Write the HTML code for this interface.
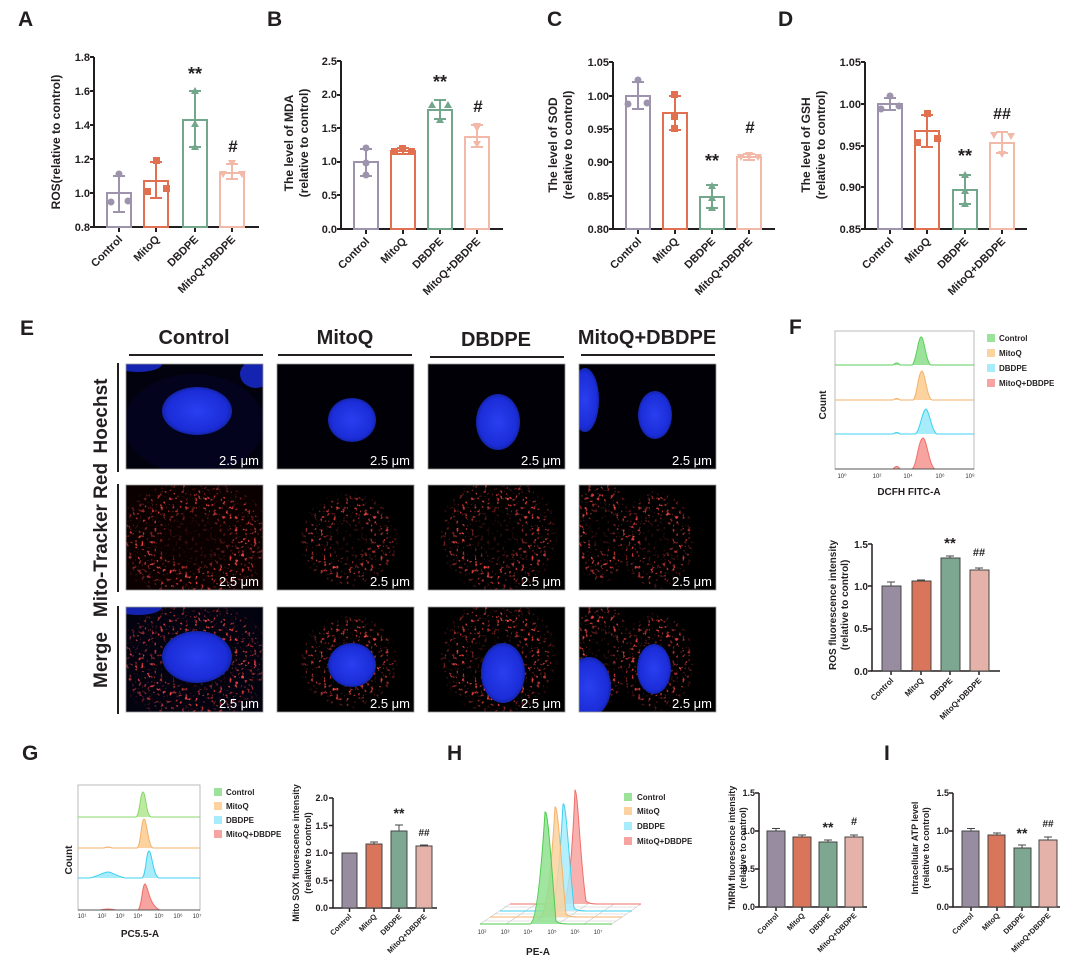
<!DOCTYPE html>
<html><head><meta charset="utf-8"><style>
html,body{margin:0;padding:0;background:#fff;}
svg{display:block;font-family:"Liberation Sans",Arial,sans-serif;}
.t{font-weight:bold;fill:#231f20;}
</style></head><body>
<svg width="1080" height="967" viewBox="0 0 1080 967" xmlns="http://www.w3.org/2000/svg">
<defs>
<clipPath id="cp"><rect width="137" height="105"/></clipPath>
<filter id="mito" x="0" y="0" width="100%" height="100%">
<feTurbulence type="fractalNoise" baseFrequency="0.32" numOctaves="2" seed="4"/>
<feColorMatrix type="matrix" values="0 0 0 0 0.95  0 0 0 0 0.06  0 0 0 0 0.06  6 0 0 0 -3.5"/>
</filter>
<radialGradient id="nuc" cx="50%" cy="50%" r="50%"><stop offset="0" stop-color="#2a3ff0"/><stop offset="0.85" stop-color="#1b2dd8"/><stop offset="1" stop-color="#1424a8"/></radialGradient>
<radialGradient id="cellm" cx="50%" cy="50%" r="50%"><stop offset="0.3" stop-color="#fff" stop-opacity="0.2"/><stop offset="0.6" stop-color="#fff" stop-opacity="1"/><stop offset="0.85" stop-color="#fff" stop-opacity="0.7"/><stop offset="1" stop-color="#fff" stop-opacity="0"/></radialGradient>
<mask id="m1"><ellipse cx="68" cy="55" rx="80" ry="62" fill="url(#cellm)"/></mask>
<mask id="m2"><ellipse cx="72" cy="55" rx="50" ry="48" fill="url(#cellm)"/></mask>
<mask id="m3"><ellipse cx="70" cy="50" rx="60" ry="60" fill="url(#cellm)"/></mask>
<mask id="m4"><ellipse cx="78" cy="55" rx="38" ry="50" fill="url(#cellm)"/><ellipse cx="22" cy="45" rx="30" ry="55" fill="url(#cellm)"/></mask>
<rect id="noise" width="137" height="105" fill="#fff" filter="url(#mito)"/>
</defs>

<!-- Panel letters -->
<g class="t" font-size="21">
<text x="18" y="26">A</text><text x="267" y="26">B</text><text x="547" y="26">C</text><text x="778" y="26">D</text>
<text x="20" y="335">E</text><text x="789" y="334">F</text>
<text x="22" y="760">G</text><text x="447" y="760">H</text><text x="884" y="760">I</text>
</g>

<!-- ===== Panel A ===== -->
<g font-size="11" class="t" text-anchor="end">
<text x="90" y="61">1.8</text><text x="90" y="95">1.6</text><text x="90" y="129">1.4</text><text x="90" y="163">1.2</text><text x="90" y="197">1.0</text><text x="90" y="231">0.8</text>
</g>
<g stroke="#231f20" stroke-width="2" fill="none">
<path d="M94,57 V227 H259"/>
<path d="M90,57H94M90,91H94M90,125H94M90,159H94M90,193H94M90,227H94"/>
<path d="M119,227v5M156,227v5M195,227v5M232,227v5"/>
</g>
<text class="t" font-size="12" transform="translate(60,142) rotate(-90)" text-anchor="middle">ROS(relative to control)</text>
<g fill="none" stroke-width="2">
<rect x="107" y="193" width="24" height="34" stroke="#9d93ad"/>
<path d="M119,176V212M113,176h12M113,212h12" stroke="#9d93ad"/>
<rect x="144" y="181" width="24" height="46" stroke="#e0704f"/>
<path d="M156,162V198M150,162h12M150,198h12" stroke="#e0704f"/>
<rect x="183" y="120" width="24" height="107" stroke="#72a78b"/>
<path d="M195,91V147M189,91h12M189,147h12" stroke="#72a78b"/>
<rect x="220" y="173" width="24" height="54" stroke="#f2b8a8"/>
<path d="M232,164V179M226,164h12M226,179h12" stroke="#f2b8a8"/>
</g>
<g fill="#9d93ad"><circle cx="119" cy="174" r="3.5"/><circle cx="111" cy="202" r="3.5"/><circle cx="128" cy="201" r="3.5"/></g>
<g fill="#e0704f"><rect x="153" y="157" width="7" height="7"/><rect x="144" y="188" width="7" height="7"/><rect x="163" y="185" width="7" height="7"/></g>
<g fill="#72a78b"><path d="M195,87l4,7h-8z M195,120l4,7h-8z M195,143l4,7h-8z"/></g>
<g fill="#f2b8a8"><path d="M232,167l4,-7h-8z M223,178l4,-7h-8z M242,178l4,-7h-8z"/></g>
<text class="t" font-size="18" x="195" y="80" text-anchor="middle">**</text>
<text class="t" font-size="17" x="233" y="152" text-anchor="middle">#</text>
<g class="t" font-size="11" text-anchor="end">
<text transform="translate(123,240) rotate(-45)">Control</text>
<text transform="translate(160,240) rotate(-45)">MitoQ</text>
<text transform="translate(199,240) rotate(-45)">DBDPE</text>
<text transform="translate(236,240) rotate(-45)">MitoQ+DBDPE</text>
</g>

<!-- ===== Panel B ===== -->
<g font-size="11" class="t" text-anchor="end">
<text x="337" y="65">2.5</text><text x="337" y="98">2.0</text><text x="337" y="132">1.5</text><text x="337" y="165">1.0</text><text x="337" y="199">0.5</text><text x="337" y="233">0.0</text>
</g>
<g stroke="#231f20" stroke-width="2" fill="none">
<path d="M341,61 V229 H503"/>
<path d="M337,61H341M337,95H341M337,128H341M337,162H341M337,195H341M337,229H341"/>
<path d="M366,229v5M403,229v5M440,229v5M477,229v5"/>
</g>
<text class="t" font-size="12" text-anchor="middle" transform="translate(293,143) rotate(-90)">The level of MDA</text>
<text class="t" font-size="12" text-anchor="middle" transform="translate(308,143) rotate(-90)">(relative to control)</text>
<g fill="none" stroke-width="2">
<rect x="354" y="162" width="24" height="67" stroke="#9d93ad"/>
<path d="M366,149V176M360,149h12M360,176h12" stroke="#9d93ad"/>
<rect x="391" y="151" width="24" height="78" stroke="#e0704f"/>
<path d="M403,148V154M397,148h12M397,154h12" stroke="#e0704f"/>
<rect x="428" y="110" width="24" height="119" stroke="#72a78b"/>
<path d="M440,100V119M434,100h12M434,119h12" stroke="#72a78b"/>
<rect x="465" y="137" width="24" height="92" stroke="#f2b8a8"/>
<path d="M477,125V147M471,125h12M471,147h12" stroke="#f2b8a8"/>
</g>
<g fill="#9d93ad"><circle cx="366" cy="148" r="3.5"/><circle cx="366" cy="163" r="3.5"/><circle cx="366" cy="175" r="3.5"/></g>
<g fill="#e0704f"><rect x="399" y="145" width="7" height="7"/><rect x="391" y="148" width="7" height="7"/><rect x="408" y="148" width="7" height="7"/></g>
<g fill="#72a78b"><path d="M440,116l4,7h-8z M432,101l4,7h-8z M448,101l4,7h-8z"/></g>
<g fill="#f2b8a8"><path d="M477,132l4,-7h-8z M477,148l4,-7h-8z M477,130l4,-7h-8z"/></g>
<text class="t" font-size="18" x="440" y="88" text-anchor="middle">**</text>
<text class="t" font-size="17" x="478" y="112" text-anchor="middle">#</text>
<g class="t" font-size="11" text-anchor="end">
<text transform="translate(370,242) rotate(-45)">Control</text>
<text transform="translate(407,242) rotate(-45)">MitoQ</text>
<text transform="translate(444,242) rotate(-45)">DBDPE</text>
<text transform="translate(481,242) rotate(-45)">MitoQ+DBDPE</text>
</g>

<!-- ===== Panel C ===== -->
<g font-size="11" class="t" text-anchor="end">
<text x="609" y="66">1.05</text><text x="609" y="100">1.00</text><text x="609" y="133">0.95</text><text x="609" y="166">0.90</text><text x="609" y="200">0.85</text><text x="609" y="233">0.80</text>
</g>
<g stroke="#231f20" stroke-width="2" fill="none">
<path d="M613,62 V229 H775"/>
<path d="M609,62H613M609,96H613M609,129H613M609,162H613M609,196H613M609,229H613"/>
<path d="M638,229v5M675,229v5M712,229v5M749,229v5"/>
</g>
<text class="t" font-size="12" text-anchor="middle" transform="translate(557,145) rotate(-90)">The level of SOD</text>
<text class="t" font-size="12" text-anchor="middle" transform="translate(572,145) rotate(-90)">(relative to control)</text>
<g fill="none" stroke-width="2">
<rect x="626" y="96" width="24" height="133" stroke="#9d93ad"/>
<path d="M638,82V109M632,82h12M632,109h12" stroke="#9d93ad"/>
<rect x="663" y="113" width="24" height="116" stroke="#e0704f"/>
<path d="M675,96V130M669,96h12M669,130h12" stroke="#e0704f"/>
<rect x="700" y="197" width="24" height="32" stroke="#72a78b"/>
<path d="M712,185V208M706,185h12M706,208h12" stroke="#72a78b"/>
<rect x="737" y="157" width="24" height="72" stroke="#f2b8a8"/>
<path d="M749,154V160M743,154h12M743,160h12" stroke="#f2b8a8"/>
</g>
<g fill="#9d93ad"><circle cx="638" cy="80" r="3.5"/><circle cx="628" cy="104" r="3.5"/><circle cx="647" cy="103" r="3.5"/></g>
<g fill="#e0704f"><rect x="671" y="91" width="7" height="7"/><rect x="671" y="113" width="7" height="7"/><rect x="671" y="125" width="7" height="7"/></g>
<g fill="#72a78b"><path d="M712,182l4,7h-8z M712,194l4,7h-8z M712,204l4,7h-8z"/></g>
<g fill="#f2b8a8"><path d="M749,159l4,-7h-8z M741,161l4,-7h-8z M758,161l4,-7h-8z"/></g>
<text class="t" font-size="18" x="712" y="167" text-anchor="middle">**</text>
<text class="t" font-size="17" x="750" y="133" text-anchor="middle">#</text>
<g class="t" font-size="11" text-anchor="end">
<text transform="translate(642,242) rotate(-45)">Control</text>
<text transform="translate(679,242) rotate(-45)">MitoQ</text>
<text transform="translate(716,242) rotate(-45)">DBDPE</text>
<text transform="translate(753,242) rotate(-45)">MitoQ+DBDPE</text>
</g>

<!-- ===== Panel D ===== -->
<g font-size="11" class="t" text-anchor="end">
<text x="861" y="66">1.05</text><text x="861" y="108">1.00</text><text x="861" y="150">0.95</text><text x="861" y="191">0.90</text><text x="861" y="233">0.85</text>
</g>
<g stroke="#231f20" stroke-width="2" fill="none">
<path d="M865,62 V229 H1027"/>
<path d="M861,62H865M861,104H865M861,146H865M861,187H865M861,229H865"/>
<path d="M890,229v5M927,229v5M965,229v5M1002,229v5"/>
</g>
<text class="t" font-size="12" text-anchor="middle" transform="translate(810,145) rotate(-90)">The level of GSH</text>
<text class="t" font-size="12" text-anchor="middle" transform="translate(825,145) rotate(-90)">(relative to control)</text>
<g fill="none" stroke-width="2">
<rect x="878" y="104" width="24" height="125" stroke="#9d93ad"/>
<path d="M890,98V110M884,98h12M884,110h12" stroke="#9d93ad"/>
<rect x="915" y="131" width="24" height="98" stroke="#e0704f"/>
<path d="M927,115V147M921,115h12M921,147h12" stroke="#e0704f"/>
<rect x="953" y="190" width="24" height="39" stroke="#72a78b"/>
<path d="M965,175V204M959,175h12M959,204h12" stroke="#72a78b"/>
<rect x="990" y="143" width="24" height="86" stroke="#f2b8a8"/>
<path d="M1002,132V153M996,132h12M996,153h12" stroke="#f2b8a8"/>
</g>
<g fill="#9d93ad"><circle cx="890" cy="96" r="3.5"/><circle cx="881" cy="109" r="3.5"/><circle cx="899" cy="106" r="3.5"/></g>
<g fill="#e0704f"><rect x="924" y="110" width="7" height="7"/><rect x="914" y="139" width="7" height="7"/><rect x="934" y="135" width="7" height="7"/></g>
<g fill="#72a78b"><path d="M965,171l4,7h-8z M965,187l4,7h-8z M965,200l4,7h-8z"/></g>
<g fill="#f2b8a8"><path d="M1002,158l4,-7h-8z M994,139l4,-7h-8z M1011,140l4,-7h-8z"/></g>
<text class="t" font-size="18" x="965" y="162" text-anchor="middle">**</text>
<text class="t" font-size="16" x="1002" y="119" text-anchor="middle">##</text>
<g class="t" font-size="11" text-anchor="end">
<text transform="translate(894,242) rotate(-45)">Control</text>
<text transform="translate(931,242) rotate(-45)">MitoQ</text>
<text transform="translate(969,242) rotate(-45)">DBDPE</text>
<text transform="translate(1006,242) rotate(-45)">MitoQ+DBDPE</text>
</g>

<!-- ===== Panel E ===== -->
<g class="t" font-size="20" text-anchor="middle">
<text x="194" y="344">Control</text><text x="345" y="344">MitoQ</text><text x="496" y="346">DBDPE</text><text x="647" y="344">MitoQ+DBDPE</text>
</g>
<g stroke="#231f20" stroke-width="2">
<path d="M129,355H263M278,355H412M430,357H564M581,355H715"/>
<path d="M118,363V472M118,484V592M118,606V714"/>
</g>
<g class="t" font-size="19" text-anchor="middle">
<text transform="translate(107,416) rotate(-90)">Hoechst</text>
<text transform="translate(107,540) rotate(-90)">Mito-Tracker Red</text>
<text transform="translate(107,660) rotate(-90)">Merge</text>
</g>

<!-- Row 1 Hoechst -->
<g transform="translate(126,364)"><g clip-path="url(#cp)"><rect width="137" height="105" fill="#02020e"/><ellipse cx="68" cy="60" rx="70" ry="50" fill="#06073a" opacity="0.35"/><ellipse cx="71" cy="47" rx="35" ry="24" fill="url(#nuc)"/><ellipse cx="12" cy="0" rx="24" ry="8" fill="#1424b0"/><ellipse cx="130" cy="10" rx="16" ry="14" fill="#1424b0"/></g></g>
<g transform="translate(277,364)"><g clip-path="url(#cp)"><rect width="137" height="105" fill="#000006"/><ellipse cx="75" cy="56" rx="24" ry="22" fill="url(#nuc)"/></g></g>
<g transform="translate(428,364)"><g clip-path="url(#cp)"><rect width="137" height="105" fill="#000006"/><ellipse cx="70" cy="58" rx="22" ry="28" fill="url(#nuc)"/></g></g>
<g transform="translate(579,364)"><g clip-path="url(#cp)"><rect width="137" height="105" fill="#000006"/><ellipse cx="76" cy="51" rx="17" ry="24" fill="url(#nuc)"/><ellipse cx="6" cy="36" rx="14" ry="32" fill="url(#nuc)"/></g></g>
<!-- Row 2 Mito -->
<g transform="translate(126,485)"><g clip-path="url(#cp)"><rect width="137" height="105" fill="#0a0000"/><use href="#noise" mask="url(#m1)"/></g></g>
<g transform="translate(277,485)"><g clip-path="url(#cp)"><rect width="137" height="105" fill="#000"/><use href="#noise" mask="url(#m2)"/></g></g>
<g transform="translate(428,485)"><g clip-path="url(#cp)"><rect width="137" height="105" fill="#000"/><use href="#noise" mask="url(#m3)"/></g></g>
<g transform="translate(579,485)"><g clip-path="url(#cp)"><rect width="137" height="105" fill="#000"/><use href="#noise" mask="url(#m4)"/></g></g>
<!-- Row 3 Merge -->
<g transform="translate(126,607)"><g clip-path="url(#cp)"><rect width="137" height="105" fill="#03020f"/><use href="#noise" mask="url(#m1)"/><ellipse cx="71" cy="50" rx="35" ry="26" fill="url(#nuc)"/><ellipse cx="12" cy="0" rx="24" ry="8" fill="#1424b0"/></g></g>
<g transform="translate(277,607)"><g clip-path="url(#cp)"><rect width="137" height="105" fill="#000"/><use href="#noise" mask="url(#m2)"/><ellipse cx="75" cy="58" rx="24" ry="22" fill="url(#nuc)"/></g></g>
<g transform="translate(428,607)"><g clip-path="url(#cp)"><rect width="137" height="105" fill="#000"/><use href="#noise" mask="url(#m3)"/><ellipse cx="75" cy="66" rx="22" ry="30" fill="url(#nuc)"/></g></g>
<g transform="translate(579,607)"><g clip-path="url(#cp)"><rect width="137" height="105" fill="#000"/><use href="#noise" mask="url(#m4)"/><ellipse cx="75" cy="62" rx="17" ry="25" fill="url(#nuc)"/><ellipse cx="10" cy="80" rx="22" ry="30" fill="url(#nuc)"/></g></g>
<!-- scale labels -->
<g fill="#fff" font-size="13" text-anchor="end">
<text x="259" y="465">2.5 μm</text><text x="410" y="465">2.5 μm</text><text x="561" y="465">2.5 μm</text><text x="712" y="465">2.5 μm</text>
<text x="259" y="586">2.5 μm</text><text x="410" y="586">2.5 μm</text><text x="561" y="586">2.5 μm</text><text x="712" y="586">2.5 μm</text>
<text x="259" y="708">2.5 μm</text><text x="410" y="708">2.5 μm</text><text x="561" y="708">2.5 μm</text><text x="712" y="708">2.5 μm</text>
</g>
<g fill="none" stroke="#999" stroke-width="0.8">
<rect x="126" y="364" width="137" height="105"/><rect x="277" y="364" width="137" height="105"/><rect x="428" y="364" width="137" height="105"/><rect x="579" y="364" width="137" height="105"/>
<rect x="126" y="485" width="137" height="105"/><rect x="277" y="485" width="137" height="105"/><rect x="428" y="485" width="137" height="105"/><rect x="579" y="485" width="137" height="105"/>
<rect x="126" y="607" width="137" height="105"/><rect x="277" y="607" width="137" height="105"/><rect x="428" y="607" width="137" height="105"/><rect x="579" y="607" width="137" height="105"/>
</g>

<!-- ===== Panel F histogram ===== -->
<rect x="835" y="331" width="139" height="138" fill="#fff" stroke="#bbb" stroke-width="1"/>
<path d="M835,365H893Q897,361 900,365H912C916,363 918,338 921,337C924,336 926,363 931,365H974" fill="#9be39b" stroke="#5ccf5c" stroke-width="1"/>
<path d="M835,400H893Q897,397 900,400H913C917,398 918,372 922,371C925,372 927,398 932,400H974" fill="#fcd29f" stroke="#f5b26b" stroke-width="1"/>
<path d="M835,434H893Q897,431 900,434H915C920,432 922,410 926,409C929,410 932,432 937,434H974" fill="#a6ecfb" stroke="#3fd0f0" stroke-width="1"/>
<path d="M835,469H893Q897,464 900,469H912C917,466 918,440 923,438C927,439 929,466 935,469H974" fill="#f7a3a0" stroke="#ef6f6a" stroke-width="1"/>
<path d="M835,469H974" stroke="#555" stroke-width="1"/>
<g font-size="6" fill="#333" text-anchor="middle"><text x="842" y="478">10⁰</text><text x="877" y="478">10²</text><text x="908" y="478">10⁴</text><text x="940" y="478">10⁶</text><text x="970" y="478">10⁸</text></g>
<text class="t" font-size="10" x="909" y="495" text-anchor="middle">DCFH FITC-A</text>
<text class="t" font-size="10" text-anchor="middle" transform="translate(826,405) rotate(-90)">Count</text>
<g><rect x="987" y="334" width="8" height="8" fill="#9be39b"/><rect x="987" y="349" width="8" height="8" fill="#fcd29f"/><rect x="987" y="364" width="8" height="8" fill="#a6ecfb"/><rect x="987" y="379" width="8" height="8" fill="#f7a3a0"/></g>
<g class="t" font-size="8"><text x="999" y="341">Control</text><text x="999" y="356">MitoQ</text><text x="999" y="371">DBDPE</text><text x="999" y="386">MitoQ+DBDPE</text></g>

<!-- F bar chart -->
<g font-size="10" class="t" text-anchor="end"><text x="868" y="548">1.5</text><text x="868" y="590">1.0</text><text x="868" y="632">0.5</text><text x="868" y="675">0.0</text></g>
<g stroke="#231f20" stroke-width="1.5" fill="none"><path d="M872,544V671H1000"/><path d="M868,544h4M868,586h4M868,629h4M868,671h4M891,671v4M921,671v4M950,671v4M979,671v4"/></g>
<g stroke="#444" stroke-width="1">
<rect x="882" y="586" width="19" height="85" fill="#978ca0"/><rect x="912" y="581" width="19" height="90" fill="#d8755a"/><rect x="941" y="558" width="19" height="113" fill="#7ea792"/><rect x="970" y="570" width="19" height="101" fill="#e4b2a8"/>
<path d="M891,586V582M887,582h8M921,581V580M917,580h8M950,558V556M946,556h8M979,570V568M975,568h8" fill="none"/>
</g>
<text class="t" font-size="15" x="950" y="548" text-anchor="middle">**</text>
<text class="t" font-size="11" x="979" y="556" text-anchor="middle" fill="#444">##</text>
<text class="t" font-size="10" text-anchor="middle" transform="translate(836,605) rotate(-90)">ROS fluorescence intensity</text>
<text class="t" font-size="10" text-anchor="middle" transform="translate(848,605) rotate(-90)">(relative to control)</text>
<g class="t" font-size="8" text-anchor="end">
<text transform="translate(894,681) rotate(-45)">Control</text><text transform="translate(924,681) rotate(-45)">MitoQ</text><text transform="translate(953,681) rotate(-45)">DBDPE</text><text transform="translate(982,681) rotate(-45)">MitoQ+DBDPE</text>
</g>

<!-- ===== Panel G histogram ===== -->
<rect x="78" y="785" width="122" height="125" fill="#fff" stroke="#bbb"/>
<path d="M78,817H136C140,815 140,793 143,792C146,793 146,815 151,817H200" fill="#bdeaa0" stroke="#86d86a" stroke-width="1"/>
<path d="M78,848H104Q108,846 112,848H137C141,846 141,820 144,819C147,820 148,846 153,848H200" fill="#fcd29f" stroke="#f5b26b" stroke-width="1"/>
<path d="M78,878H90C98,876 104,872 108,872C112,872 116,876 125,878H142C146,876 146,852 149,851C152,852 153,876 159,878H200" fill="#a6ecfb" stroke="#3fd0f0" stroke-width="1"/>
<path d="M78,910H100Q108,908 116,910H138C142,907 142,885 145,884C148,885 149,906 160,910H200" fill="#f7a3a0" stroke="#ef6f6a" stroke-width="1"/>
<path d="M78,910H200" stroke="#555"/>
<g font-size="6" fill="#333" text-anchor="middle"><text x="82" y="918">10¹</text><text x="102" y="918">10²</text><text x="120" y="918">10³</text><text x="138" y="918">10⁴</text><text x="159" y="918">10⁵</text><text x="178" y="918">10⁶</text><text x="197" y="918">10⁷</text></g>
<text class="t" font-size="10" x="140" y="937" text-anchor="middle">PC5.5-A</text>
<text class="t" font-size="10" text-anchor="middle" transform="translate(72,860) rotate(-90)">Count</text>
<g><rect x="214" y="788" width="8" height="8" fill="#9be39b"/><rect x="214" y="802" width="8" height="8" fill="#fcd29f"/><rect x="214" y="816" width="8" height="8" fill="#a6ecfb"/><rect x="214" y="830" width="8" height="8" fill="#f7a3a0"/></g>
<g class="t" font-size="8"><text x="226" y="795">Control</text><text x="226" y="809">MitoQ</text><text x="226" y="823">DBDPE</text><text x="226" y="837">MitoQ+DBDPE</text></g>

<!-- G bar chart -->
<g font-size="9" class="t" text-anchor="end"><text x="328" y="801">2.0</text><text x="328" y="829">1.5</text><text x="328" y="856">1.0</text><text x="328" y="884">0.5</text><text x="328" y="911">0.0</text></g>
<g stroke="#231f20" stroke-width="1.5" fill="none"><path d="M333,798V908H437"/><path d="M329,798h4M329,825.5h4M329,853h4M329,880.5h4M329,908h4M349.5,908v4M374,908v4M399,908v4M424,908v4"/></g>
<g stroke="#444" stroke-width="1">
<rect x="342" y="853" width="15" height="55" fill="#978ca0"/><rect x="366" y="844" width="16" height="64" fill="#d8755a"/><rect x="391" y="831" width="16" height="77" fill="#7ea792"/><rect x="416" y="846" width="16" height="62" fill="#e4b2a8"/>
<path d="M374,844V842M370,842h8M399,831V825M395,825h8M424,846V845M420,845h8" fill="none"/>
</g>
<text class="t" font-size="14" x="399" y="818" text-anchor="middle">**</text>
<text class="t" font-size="10" x="424" y="836" text-anchor="middle" fill="#444">##</text>
<text class="t" font-size="9" text-anchor="middle" transform="translate(299,853) rotate(-90)">Mito SOX fluorescence intensity</text>
<text class="t" font-size="9" text-anchor="middle" transform="translate(311,853) rotate(-90)">(relative to control)</text>
<g class="t" font-size="7.5" text-anchor="end">
<text transform="translate(352,917) rotate(-45)">Control</text><text transform="translate(377,917) rotate(-45)">MitoQ</text><text transform="translate(402,917) rotate(-45)">DBDPE</text><text transform="translate(427,917) rotate(-45)">MitoQ+DBDPE</text>
</g>

<!-- ===== Panel H 3D histogram ===== -->
<g stroke="#c8c8c8" stroke-width="0.6" fill="none">
<path d="M480,924L510,904M506,924L536,904M532,924L562,904M558,924L588,904M584,924L614,904M612,924L641,904"/>
<path d="M490,917H622M500,911H632"/>
<path d="M484,921H616M494,914H626M504,907H636"/>
</g>
<path d="M510,904H562C568,902 572,860 575,790C578,790 580,860 586,901C588,903 590,904 600,904H641" fill="#f7a3a0" fill-opacity="0.85" stroke="#ef6f6a" stroke-width="1"/>
<path d="M500,911H550C556,909 560,860 563,804C566,800 569,860 574,908C576,910 578,911 590,911H632" fill="#a6ecfb" fill-opacity="0.85" stroke="#3fd0f0" stroke-width="1"/>
<path d="M490,917H540C547,915 552,860 555,807C558,805 561,860 566,914C568,916 570,917 582,917H622" fill="#fcd29f" fill-opacity="0.85" stroke="#f5b26b" stroke-width="1"/>
<path d="M480,924H530C537,922 542,860 545,812C548,810 551,860 556,921C558,923 560,924 572,924H612" fill="#8fe08f" fill-opacity="0.85" stroke="#4fcb4f" stroke-width="1"/>
<g font-size="6" fill="#333" text-anchor="middle"><text x="482" y="934">10²</text><text x="505" y="934">10³</text><text x="528" y="934">10⁴</text><text x="552" y="934">10⁵</text><text x="575" y="934">10⁶</text><text x="598" y="934">10⁷</text></g>
<text class="t" font-size="10" x="538" y="955" text-anchor="middle">PE-A</text>
<g><rect x="624" y="793" width="8" height="8" fill="#9be39b"/><rect x="624" y="807" width="8" height="8" fill="#fcd29f"/><rect x="624" y="822" width="8" height="8" fill="#a6ecfb"/><rect x="624" y="837" width="8" height="8" fill="#f7a3a0"/></g>
<g class="t" font-size="8"><text x="637" y="800">Control</text><text x="637" y="814">MitoQ</text><text x="637" y="829">DBDPE</text><text x="637" y="844">MitoQ+DBDPE</text></g>

<!-- H bar chart -->
<g font-size="9" class="t" text-anchor="end"><text x="755" y="796">1.5</text><text x="755" y="834">1.0</text><text x="755" y="872">0.5</text><text x="755" y="910">0.0</text></g>
<g stroke="#231f20" stroke-width="1.5" fill="none"><path d="M759,793V907H867"/><path d="M755,793h4M755,831h4M755,869h4M755,907h4M776,907v4M802,907v4M828,907v4M854,907v4"/></g>
<g stroke="#444" stroke-width="1">
<rect x="767" y="831" width="18" height="76" fill="#978ca0"/><rect x="793" y="837" width="18" height="70" fill="#d8755a"/><rect x="819" y="842" width="18" height="65" fill="#7ea792"/><rect x="845" y="837" width="18" height="70" fill="#e4b2a8"/>
<path d="M776,831V828.5M772,828.5h8M802,837V835M798,835h8M828,842V840M824,840h8M854,837V835M850,835h8" fill="none"/>
</g>
<text class="t" font-size="14" x="828" y="832" text-anchor="middle">**</text>
<text class="t" font-size="11" x="854" y="825" text-anchor="middle" fill="#444">#</text>
<text class="t" font-size="9" text-anchor="middle" transform="translate(735,848) rotate(-90)">TMRM fluorescence intensity</text>
<text class="t" font-size="9" text-anchor="middle" transform="translate(746,848) rotate(-90)">(relative to control)</text>
<g class="t" font-size="7.5" text-anchor="end">
<text transform="translate(779,916) rotate(-45)">Control</text><text transform="translate(805,916) rotate(-45)">MitoQ</text><text transform="translate(831,916) rotate(-45)">DBDPE</text><text transform="translate(857,916) rotate(-45)">MitoQ+DBDPE</text>
</g>

<!-- I bar chart -->
<g font-size="9" class="t" text-anchor="end"><text x="949" y="796">1.5</text><text x="949" y="834">1.0</text><text x="949" y="872">0.5</text><text x="949" y="910">0.0</text></g>
<g stroke="#231f20" stroke-width="1.5" fill="none"><path d="M953,793V907H1060"/><path d="M949,793h4M949,831h4M949,869h4M949,907h4M971,907v4M997,907v4M1022,907v4M1048,907v4"/></g>
<g stroke="#444" stroke-width="1">
<rect x="962" y="831" width="17" height="76" fill="#978ca0"/><rect x="988" y="835" width="17" height="72" fill="#d8755a"/><rect x="1014" y="848" width="17" height="59" fill="#7ea792"/><rect x="1039" y="840" width="18" height="67" fill="#e4b2a8"/>
<path d="M971,831V828.5M967,828.5h8M997,835V833M993,833h8M1022,848V845M1018,845h8M1048,840V837M1044,837h8" fill="none"/>
</g>
<text class="t" font-size="14" x="1022" y="838" text-anchor="middle">**</text>
<text class="t" font-size="10" x="1048" y="827" text-anchor="middle" fill="#444">##</text>
<text class="t" font-size="9" text-anchor="middle" transform="translate(918,848) rotate(-90)">Intracellular ATP level</text>
<text class="t" font-size="9" text-anchor="middle" transform="translate(929,848) rotate(-90)">(relative to control)</text>
<g class="t" font-size="7.5" text-anchor="end">
<text transform="translate(974,916) rotate(-45)">Control</text><text transform="translate(1000,916) rotate(-45)">MitoQ</text><text transform="translate(1025,916) rotate(-45)">DBDPE</text><text transform="translate(1051,916) rotate(-45)">MitoQ+DBDPE</text>
</g>
</svg>
</body></html>
